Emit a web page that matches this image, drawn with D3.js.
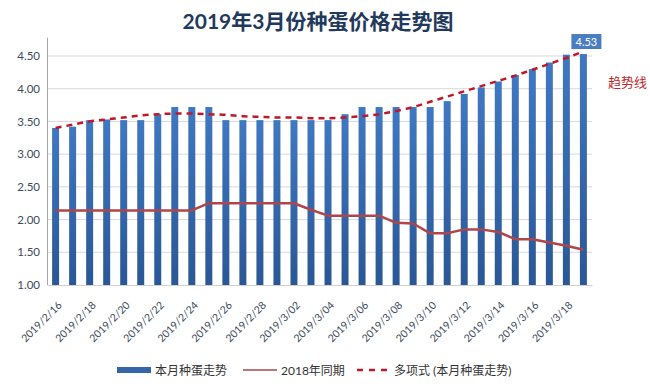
<!DOCTYPE html>
<html lang="zh">
<head>
<meta charset="UTF-8">
<title>2019年3月份种蛋价格走势图</title>
<style>
    body { margin: 0; background: #fff; }
    text { font-family: Lato, "Noto Sans CJK SC", sans-serif; }
</style>
</head>
<body>
<div id="chart"></div>
<script src="https://d3js.org/d3.v7.min.js"></script>
<script>
// dates of this month's price (one bar per day)
var dates = ["2019/2/16","2019/2/17","2019/2/18","2019/2/19","2019/2/20","2019/2/21","2019/2/22","2019/2/23",
    "2019/2/24","2019/2/25","2019/2/26","2019/2/27","2019/2/28","2019/3/01","2019/3/02","2019/3/03",
    "2019/3/04","2019/3/05","2019/3/06","2019/3/07","2019/3/08","2019/3/09","2019/3/10","2019/3/11",
    "2019/3/12","2019/3/13","2019/3/14","2019/3/15","2019/3/16","2019/3/17","2019/3/18","2019/3/19"];

// 本月种蛋走势
var thisMonth = [3.40,3.42,3.52,3.53,3.52,3.52,3.61,3.72,3.72,3.72,3.52,3.52,3.52,3.52,3.52,3.52,
    3.52,3.61,3.72,3.72,3.72,3.72,3.72,3.81,3.92,4.02,4.11,4.21,4.30,4.40,4.52,4.53];

// 2018年同期
var lastYear = [2.14,2.14,2.14,2.14,2.14,2.14,2.14,2.14,2.14,2.25,2.25,2.25,2.25,2.25,2.25,2.15,
    2.06,2.06,2.06,2.06,1.95,1.94,1.79,1.79,1.85,1.85,1.81,1.70,1.70,1.65,1.60,1.54];

// 多项式趋势线
var trend = [3.40,3.45,3.50,3.53,3.56,3.59,3.61,3.62,3.62,3.61,3.60,3.58,3.57,3.56,3.56,3.55,
    3.55,3.56,3.58,3.61,3.66,3.72,3.80,3.88,3.96,4.04,4.12,4.20,4.29,4.38,4.47,4.57];

var yTicks = [1.00,1.50,2.00,2.50,3.00,3.50,4.00,4.50];

var width = 650, height = 388;
var svg = d3.select("#chart").append("svg")
    .attr("width", width)
    .attr("height", height);

var x = d3.scaleBand()
    .domain(dates)
    .range([47, 592])
    .paddingInner(0.59)
    .paddingOuter(0.3);

var y = d3.scaleLinear()
    .domain([1, 4.5])
    .range([285, 56]);

var defs = svg.append("defs");
var grad = defs.append("linearGradient")
    .attr("id", "barGrad")
    .attr("x1", 0).attr("y1", 0).attr("x2", 0).attr("y2", 1);
grad.append("stop").attr("offset", "0%").attr("stop-color", "#3f78c2");
grad.append("stop").attr("offset", "100%").attr("stop-color", "#2a5795");

// title
svg.append("text")
    .attr("x", 318)
    .attr("y", 29)
    .attr("text-anchor", "middle")
    .style("font-size", "21px")
    .style("font-weight", "bold")
    .style("fill", "#1f3a5c")
    .text("2019年3月份种蛋价格走势图");

// gridlines
svg.append("g")
    .selectAll("line")
    .data(yTicks.slice(1))
    .enter()
    .append("line")
    .attr("x1", 47).attr("x2", 592)
    .attr("y1", function(d) { return y(d); })
    .attr("y2", function(d) { return y(d); })
    .attr("stroke", "#d9d9d9")
    .attr("stroke-width", 1);

// y axis
var yAxis = svg.append("g")
    .attr("transform", "translate(47,0)")
    .call(d3.axisLeft(y).tickValues(yTicks).tickFormat(d3.format(".2f")).tickSize(0).tickPadding(7));
yAxis.select(".domain").remove();
yAxis.selectAll("text")
    .style("font-size", "11.5px")
    .style("fill", "#3b4a5c")
    .style("font-family", "Lato, sans-serif");
svg.append("line")
    .attr("x1", 47.5).attr("x2", 47.5)
    .attr("y1", y(4.78)).attr("y2", y(1))
    .attr("stroke", "#a6a6a6");

// bars
svg.append("g")
    .selectAll("rect")
    .data(thisMonth)
    .enter()
    .append("rect")
    .attr("x", function(d, i) { return x(dates[i]); })
    .attr("y", function(d) { return y(d); })
    .attr("width", x.bandwidth())
    .attr("height", function(d) { return y(1) - y(d); })
    .attr("fill", "url(#barGrad)");

// x axis
var xAxis = svg.append("g")
    .attr("transform", "translate(0,285)")
    .call(d3.axisBottom(x)
        .tickValues(dates.filter(function(d, i) { return i % 2 == 0; }))
        .tickSize(0).tickPadding(7));
xAxis.select(".domain").attr("stroke", "#d0d0d0");
xAxis.selectAll("text")
    .attr("text-anchor", "end")
    .attr("transform", "translate(2,16) rotate(-45)")
    .attr("dx", "0")
    .attr("dy", "0")
    .style("font-size", "10.5px")
    .style("fill", "#3b4a5c")
    .style("font-family", "Lato, sans-serif");

var cx = function(d, i) { return x(dates[i]) + x.bandwidth() / 2; };

// 2018 same period line
svg.append("path")
    .datum(lastYear)
    .attr("fill", "none")
    .attr("stroke", "#b0464a")
    .attr("stroke-width", 2.5)
    .attr("stroke-linejoin", "round")
    .attr("d", d3.line().x(cx).y(function(d) { return y(d); }));

// polynomial trend line
svg.append("path")
    .datum(trend)
    .attr("fill", "none")
    .attr("stroke", "#c0182a")
    .attr("stroke-width", 2.5)
    .attr("stroke-dasharray", "6,5")
    .attr("d", d3.line().curve(d3.curveMonotoneX).x(cx).y(function(d) { return y(d); }));

// last value label
var last = thisMonth.length - 1;
var lx = cx(null, last);
svg.append("rect")
    .attr("x", lx - 12)
    .attr("y", y(thisMonth[last]) - 20)
    .attr("width", 30)
    .attr("height", 15)
    .attr("fill", "#4a7dbf");
svg.append("text")
    .attr("x", lx + 3)
    .attr("y", y(thisMonth[last]) - 8.5)
    .attr("text-anchor", "middle")
    .style("font-size", "11px")
    .style("fill", "#fff")
    .text(d3.format(".2f")(thisMonth[last]));

svg.append("text")
    .attr("x", 608)
    .attr("y", 87)
    .style("font-size", "13px")
    .style("fill", "#c0282d")
    .style("font-family", "'Noto Sans CJK SC', sans-serif")
    .text("趋势线");

// legend
var legend = svg.append("g").attr("transform", "translate(0,370)");
legend.append("rect")
    .attr("x", 117).attr("y", -3).attr("width", 34).attr("height", 6)
    .attr("fill", "#3566a8");
legend.append("text").attr("x", 155).attr("y", 4.5).text("本月种蛋走势");
legend.append("line")
    .attr("x1", 243).attr("x2", 277).attr("y1", 0).attr("y2", 0)
    .attr("stroke", "#a4484c").attr("stroke-width", 1.5);
legend.append("text").attr("x", 281).attr("y", 4.5).text("2018年同期");
legend.append("line")
    .attr("x1", 357).attr("x2", 391).attr("y1", 0).attr("y2", 0)
    .attr("stroke", "#c0182a").attr("stroke-width", 2.5)
    .attr("stroke-dasharray", "6,6");
legend.append("text").attr("x", 394).attr("y", 4.5).text("多项式 (本月种蛋走势)");
legend.selectAll("text")
    .style("font-size", "12px")
    .style("fill", "#333");
</script>
</body>
</html>
